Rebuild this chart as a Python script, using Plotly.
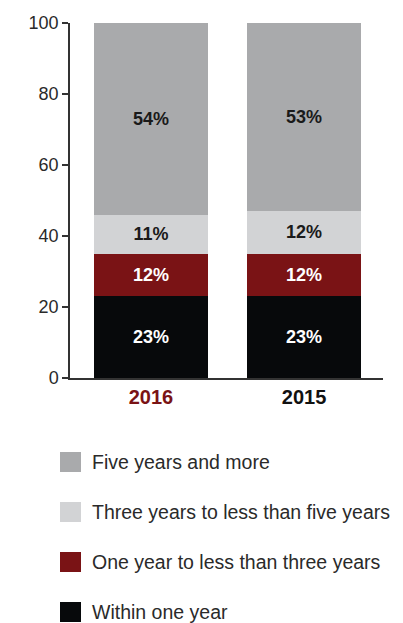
import plotly.graph_objects as go

years = ["2016", "2015"]
year_colors = ["#7a1315", "#111111"]
series_names = ["Within one year", "One year to less than three years",
                "Three years to less than five years", "Five years and more"]
series_colors = ["#07090b", "#7a1315", "#d2d3d5", "#a9aaac"]
text_colors = ["#ffffff", "#ffffff", "#1a1a1a", "#1a1a1a"]
within_one = [23, 23]
one_to_three = [12, 12]
three_to_five = [11, 12]
five_plus = [54, 53]
series_values = [within_one, one_to_three, three_to_five, five_plus]

FONT = "Liberation Sans, Arial, sans-serif"

fig = go.Figure()
for name, vals, col, tcol in zip(series_names, series_values, series_colors, text_colors):
    fig.add_trace(go.Bar(
        x=[0, 1], y=vals, name=name, marker=dict(color=col, line=dict(width=0)),
        width=0.745,
        text=[f"{v}%" for v in vals], textposition="inside", insidetextanchor="middle",
        textfont=dict(family=FONT, size=18, color=tcol, weight=600),
        showlegend=False, hoverinfo="skip",
    ))

tick_text = [f"<b><span style='color:{c}'>{y}</span></b>" for y, c in zip(years, year_colors)]

OFF = 8  # page body margin
W, H = 403 - OFF, 623 - OFF
ml, mr, mt, mb = 70 - OFF, 20, 23 - OFF, 245
ph = H - mt - mb
pw = W - ml - mr

fig.update_layout(
    width=W, height=H, barmode="stack",
    margin=dict(l=ml, r=mr, t=mt, b=mb, autoexpand=False),
    paper_bgcolor="white", plot_bgcolor="white",
    font=dict(family=FONT, size=18, color="#222222"),
    xaxis=dict(range=[-0.529, 1.516], tickvals=[0, 1], ticktext=tick_text,
               showline=True, linecolor="#333333", linewidth=1.5, ticks="",
               showgrid=False, zeroline=False, fixedrange=True, automargin=False,
               tickfont=dict(family=FONT, size=20)),
    yaxis=dict(range=[0, 100], dtick=20, showline=True, linecolor="#333333", linewidth=1.5,
               ticks="outside", ticklen=6, tickcolor="#333333", tickwidth=1.5,
               showgrid=False, zeroline=False, fixedrange=True, automargin=False,
               tickfont=dict(family=FONT, size=18, color="#2a2a2a")),
)

# manual legend (reverse order: top = Five years and more); positions in page pixels
legend_rows_px = [462, 512, 562, 612]
for i, (name, col) in enumerate(zip(series_names[::-1], series_colors[::-1])):
    yc = legend_rows_px[i] - OFF
    fig.add_shape(type="rect", xref="paper", yref="paper",
                  x0=(60 - OFF - ml) / pw, x1=(81 - OFF - ml) / pw,
                  y0=(H - mb - (yc + 10)) / ph, y1=(H - mb - (yc - 10)) / ph,
                  fillcolor=col, line=dict(width=0))
    fig.add_annotation(xref="paper", yref="paper", x=(90 - OFF - ml) / pw,
                       y=(H - mb - yc) / ph, text=name, showarrow=False,
                       xanchor="left", yanchor="middle",
                       font=dict(family=FONT, size=19.5, color="#2a2a2a"))

fig.write_html("out.html")
